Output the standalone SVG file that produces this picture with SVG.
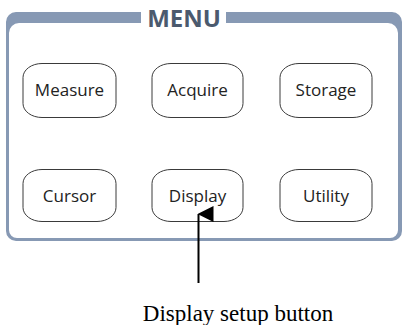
<svg xmlns="http://www.w3.org/2000/svg" width="402" height="325" viewBox="0 0 402 325">
<defs>
<style>
.btn rect{fill:#fff;stroke:#3a3a3a;stroke-width:1}
.btn text{font-family:"Open Sans","DejaVu Sans",sans-serif;font-size:17px;fill:#222;text-anchor:middle}
</style>
<marker id="ah" markerWidth="16" markerHeight="16" refX="8" refY="1" orient="auto-start-reverse" markerUnits="userSpaceOnUse" viewBox="0 0 16 16">
<path d="M0,16 L8,0 L16,16 Z" fill="#000"/>
</marker>
</defs>
<rect width="402" height="325" fill="#fff"/>
<g id="frame">
<path fill="#8799b4" fill-rule="evenodd" d="M16,12 H392 A10,10 0 0 1 402,22 V231 A10,10 0 0 1 392,241 H16 A10,10 0 0 1 6,231 V22 A10,10 0 0 1 16,12 Z M19,23 H388 A10,10 0 0 1 398,33 V230 A8,8 0 0 1 390,238 H17 A8,8 0 0 1 9,230 V33 A10,10 0 0 1 19,23 Z"/>
<rect x="141" y="8" width="85" height="18" fill="#fff"/>
<text x="184" y="27" font-family="Open Sans, DejaVu Sans, sans-serif" font-weight="bold" font-size="24" fill="#4b5a6e" text-anchor="middle">MENU</text>
</g>
<g id="measure" class="btn"><rect x="23" y="63.5" width="93" height="54" rx="19" ry="14"/><text x="69.5" y="96">Measure</text></g>
<g id="acquire" class="btn"><rect x="152" y="63.5" width="91" height="54" rx="19" ry="14"/><text x="197.5" y="96">Acquire</text></g>
<g id="storage" class="btn"><rect x="280" y="63.5" width="92" height="54" rx="19" ry="14"/><text x="326" y="96">Storage</text></g>
<g id="cursor" class="btn"><rect x="23" y="169.5" width="93" height="52" rx="19" ry="14"/><text x="69.5" y="202">Cursor</text></g>
<g id="display" class="btn"><rect x="152" y="169.5" width="91" height="52" rx="19" ry="14"/><text x="197.5" y="202">Display</text></g>
<g id="utility" class="btn"><rect x="280" y="169.5" width="92" height="52" rx="19" ry="14"/><text x="326" y="202">Utility</text></g>
<g id="connectors">
<line x1="198.5" y1="283" x2="198.5" y2="214" stroke="#000" stroke-width="2" marker-end="url(#ah)"/>
</g>
<g id="caption">
<text x="238" y="321" font-family="Liberation Serif, serif" font-size="23" fill="#000" text-anchor="middle">Display setup button</text>
</g>
</svg>
